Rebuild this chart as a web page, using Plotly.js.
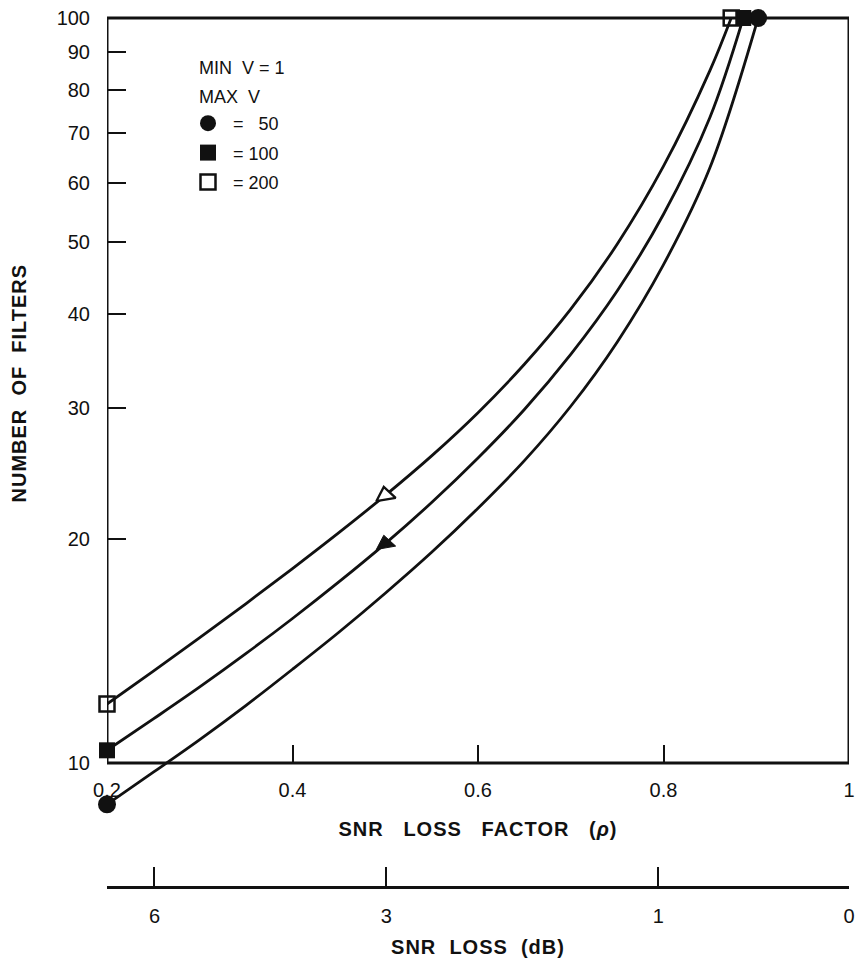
<!DOCTYPE html>
<html>
<head>
<meta charset="utf-8">
<script src="https://cdn.plot.ly/plotly-3.0.1.min.js"></script>
<style>
html,body{margin:0;padding:0;background:#fff}
.xtitle,.x2title{letter-spacing:1px}
</style>
</head>
<body>
<div id="chart" style="width:856px;height:974px"></div>
<script>
// ---- data ----
const rho200 = [0.2, 0.25, 0.3, 0.35, 0.4, 0.45, 0.5, 0.55, 0.6, 0.65, 0.7, 0.75, 0.8, 0.85, 0.873];
const n200   = [12.0, 13.28, 14.73, 16.37, 18.24, 20.38, 22.87, 25.84, 29.53, 34.29, 40.66, 49.69, 63.25, 84.99, 100];
const rho100 = [0.2, 0.25, 0.3, 0.35, 0.4, 0.45, 0.5, 0.55, 0.6, 0.65, 0.7, 0.75, 0.8, 0.85, 0.886];
const n100   = [10.4, 11.46, 12.65, 14.03, 15.63, 17.5, 19.7, 22.37, 25.67, 29.82, 35.36, 43.01, 54.52, 73.54, 100];
const rho50  = [0.2, 0.25, 0.3, 0.35, 0.4, 0.45, 0.5, 0.55, 0.6, 0.65, 0.7, 0.75, 0.8, 0.85, 0.902];
const n50    = [8.8, 9.72, 10.75, 11.95, 13.36, 14.98, 16.9, 19.18, 21.98, 25.46, 30.12, 36.72, 46.66, 62.95, 100];
const arrowRho = 0.5;           // triangles sit on the curves at rho = 0.5

const yTickVals = [10, 20, 30, 40, 50, 60, 70, 80, 90, 100];
const yTickText = ['10', '20', '30', '40', '50', '60', '70', '80', '90', '100'];
const xTickVals = [0.2, 0.4, 0.6, 0.8, 1];
const xTickText = ['0.2', '0.4', '0.6', '0.8', '1'];
const dbTickDb  = [6, 3, 1, 0];
const dbTickText = ['6', '3', '1', '0'];
const legendNames = ['&nbsp;=&nbsp;&nbsp;&nbsp;50', '&nbsp;= 100', '&nbsp;= 200'];
const legendHeader = ['MIN&nbsp; V = 1', 'MAX&nbsp; V'];
const yTitle = 'NUMBER&nbsp; OF&nbsp; FILTERS';
const xTitle = 'SNR&nbsp;&nbsp; LOSS&nbsp;&nbsp; FACTOR&nbsp;&nbsp; (<i>ρ</i>)';
const dbTitle = 'SNR&nbsp; LOSS&nbsp; (dB)';

// ---- geometry / style ----
const W = 856, H = 974;
const mL = 107, mR = 7, mT = 18, mB = 60;
const y10px = 763, decadePx = 745;
const yLow = Math.log10(8.6), yHigh = 2;
const plotBottom = y10px + (1 - yLow) * decadePx;
const paperH = H - mT - mB, paperW = W - mL - mR;
const pY = py => (H - mB - py) / paperH;
const pX = px => (px - mL) / paperW;
const yDom = v => (Math.log10(v) - yLow) / (yHigh - yLow);
const INK = '#111';
const FONT = 'Liberation Sans, Arial, Helvetica, sans-serif';

const dbTickVals = dbTickDb.map(d => Math.pow(10, -d / 10));
const at = (xs, ys, x) => ys[xs.indexOf(x)];
const last = a => a[a.length - 1];

const lineStyle = {color: INK, width: 2.8, shape: 'spline', smoothing: 1};
const circ = {symbol: 'circle', size: 18, color: INK};
const fsq  = {symbol: 'square', size: 16, color: INK};
const osq  = {symbol: 'square-open', size: 15, color: INK, line: {width: 2.5}};

const traces = [];
[[rho50, n50], [rho100, n100], [rho200, n200]].forEach(([xs, ys]) => {
  traces.push({x: xs, y: ys, mode: 'lines', line: lineStyle, showlegend: false, hoverinfo: 'skip'});
});
[[rho50, n50, circ], [rho100, n100, fsq], [rho200, n200, osq]].forEach(([xs, ys, m]) => {
  traces.push({x: [xs[0], last(xs)], y: [ys[0], last(ys)], mode: 'markers', marker: m,
               cliponaxis: false, showlegend: false, hoverinfo: 'skip'});
});
traces.push({x: [arrowRho], y: [at(rho200, n200, arrowRho)], mode: 'markers', cliponaxis: false,
  marker: {symbol: 'triangle-up', size: 17, color: '#fff', angle: -10, line: {color: INK, width: 2.3}},
  showlegend: false, hoverinfo: 'skip'});
traces.push({x: [arrowRho], y: [at(rho100, n100, arrowRho)], mode: 'markers', cliponaxis: false,
  marker: {symbol: 'triangle-up', size: 17, color: INK, angle: -10, line: {color: INK, width: 1}},
  showlegend: false, hoverinfo: 'skip'});
// legend entries
[circ, fsq, osq].forEach((m, i) => {
  traces.push({x: [null], y: [null], mode: 'markers', marker: m, name: legendNames[i],
               legendgroup: 'g' + i, showlegend: true, hoverinfo: 'skip'});
});
// carrier for the dB axis
traces.push({x: [], y: [], xaxis: 'x2', yaxis: 'y', mode: 'markers', showlegend: false, hoverinfo: 'skip'});

const layout = {
  width: W, height: H,
  margin: {l: mL, r: mR, t: mT, b: mB},
  paper_bgcolor: '#fff', plot_bgcolor: 'rgba(0,0,0,0)',
  font: {family: FONT, color: INK, size: 20},
  showlegend: true,
  legend: {x: pX(188), y: pY(105), xanchor: 'left', yanchor: 'top',
           bgcolor: 'rgba(0,0,0,0)', font: {size: 18, color: INK},
           traceorder: 'grouped', tracegroupgap: 3, itemwidth: 30},
  xaxis: {
    range: [xTickVals[0], last(xTickVals)], anchor: 'free', position: pY(y10px),
    tickvals: xTickVals, ticktext: xTickText, ticks: 'inside', ticklen: 18, tickwidth: 2,
    tickcolor: INK, showline: false, showgrid: false, zeroline: false,
    ticklabelstandoff: 13, tickfont: {size: 20},
    title: {text: xTitle, standoff: 21, font: {size: 20, weight: 'bold'}}
  },
  xaxis2: {
    overlaying: 'x', range: [xTickVals[0], last(xTickVals)], anchor: 'free', position: pY(887),
    side: 'bottom', tickvals: dbTickVals, ticktext: dbTickText, ticks: 'inside', ticklen: 19,
    tickwidth: 2, tickcolor: INK, showline: true, linewidth: 2.5, linecolor: INK,
    showgrid: false, zeroline: false, ticklabelstandoff: 10, tickfont: {size: 20},
    title: {text: dbTitle, standoff: 14, font: {size: 20, weight: 'bold'}}
  },
  yaxis: {
    type: 'log', range: [yLow, yHigh], domain: [pY(plotBottom), 1],
    tickvals: yTickVals, ticktext: yTickText, ticks: 'inside', ticklen: 19, tickwidth: 2,
    tickcolor: INK, showline: false, showgrid: false, zeroline: false,
    ticklabelstandoff: 16, tickfont: {size: 20}
  },
  shapes: [{
    type: 'rect', xref: 'x', yref: 'y domain', layer: 'below',
    x0: xTickVals[0], x1: last(xTickVals),
    y0: yDom(yTickVals[0]), y1: yDom(last(yTickVals)),
    line: {color: INK, width: 3}
  }],
  annotations: [
    {xref: 'paper', yref: 'paper', x: pX(197), y: pY(68), xanchor: 'left', yanchor: 'middle',
     text: legendHeader[0], showarrow: false, font: {size: 18}},
    {xref: 'paper', yref: 'paper', x: pX(197), y: pY(97), xanchor: 'left', yanchor: 'middle',
     text: legendHeader[1], showarrow: false, font: {size: 18}},
    {xref: 'paper', yref: 'paper', x: pX(19), y: pY(383), xanchor: 'center', yanchor: 'middle',
     textangle: -90, text: yTitle, showarrow: false, font: {size: 20, weight: 'bold'}}
  ]
};

Plotly.newPlot('chart', traces, layout, {displayModeBar: false, staticPlot: true}).then(() => {
  // widen the rotated y title like the other axis titles
  const ann = document.querySelectorAll('.annotation-text');
  if (ann.length) ann[ann.length - 1].style.letterSpacing = '1px';
});
</script>
</body>
</html>
